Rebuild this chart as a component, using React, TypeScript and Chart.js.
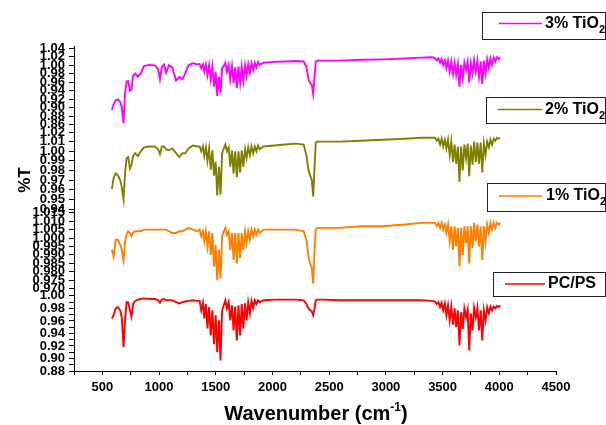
import React, { useEffect, useRef } from 'react';
import { Chart, registerables } from 'chart.js';

Chart.register(...registerables);

// Wavenumber grid (cm-1) shared by all spectra
const wavenumbers = [
  584, 599, 618, 637, 657, 671, 687, 700, 714, 728, 743, 757, 771, 790, 814, 839, 867, 914, 963, 992, 1008, 1025, 1044, 1063, 1087, 1116, 1150, 1179, 1207, 1231, 1260, 1298, 1336,
  1358, 1372, 1387, 1399, 1413, 1427, 1441, 1456, 1470, 1485, 1499, 1513, 1528, 1542, 1556, 1571, 1585, 1599, 1614, 1628, 1643, 1657, 1671, 1686, 1700, 1715, 1729, 1743, 1758, 1772, 1786, 1801, 1815, 1830, 1844, 1858, 1873, 1887,
  1921, 2016, 2112, 2208, 2275, 2299, 2318, 2332, 2347, 2359, 2371, 2382, 2394, 2446, 2591, 2782, 2974, 3165, 3310, 3405,
  3433, 3448, 3463, 3478, 3492, 3505, 3520, 3534, 3548, 3563, 3577, 3592, 3606, 3620, 3635, 3649, 3663, 3678, 3692, 3707, 3721, 3735, 3749, 3764, 3778, 3793, 3807, 3821, 3836, 3850, 3864, 3879, 3893, 3908, 3922, 3936, 3951, 3965, 3979, 3994, 4008,
];

const pcps = [
  0.964, 0.969, 0.980, 0.982, 0.977, 0.966, 0.918, 0.961, 0.990, 0.990, 0.977, 0.967, 0.987, 0.992, 0.994, 0.995, 0.996, 0.995, 0.995, 0.993, 0.989, 0.994, 0.995, 0.993, 0.993, 0.993, 0.990, 0.988, 0.990, 0.991, 0.992, 0.993, 0.992,
  0.992, 0.977, 0.989, 0.964, 0.987, 0.948, 0.982, 0.937, 0.977, 0.923, 0.969, 0.910, 0.961, 0.897, 0.977, 0.985, 0.993, 0.980, 0.990, 0.961, 0.985, 0.945, 0.983, 0.929, 0.985, 0.937, 0.987, 0.948, 0.988, 0.961, 0.990, 0.972, 0.992, 0.981, 0.993, 0.987, 0.993, 0.990,
  0.993, 0.994, 0.994, 0.994, 0.993, 0.987, 0.980, 0.977, 0.975, 0.969, 0.980, 0.993, 0.994, 0.994, 0.993, 0.993, 0.993, 0.993, 0.993, 0.992,
  0.991, 0.987, 0.990, 0.982, 0.989, 0.977, 0.988, 0.969, 0.985, 0.961, 0.983, 0.954, 0.980, 0.950, 0.977, 0.921, 0.974, 0.947, 0.980, 0.966, 0.978, 0.913, 0.972, 0.945, 0.981, 0.966, 0.981, 0.945, 0.977, 0.929, 0.977, 0.961, 0.982, 0.972, 0.983, 0.977, 0.983, 0.980, 0.984, 0.982, 0.985,
];

const tio2_1 = [
  0.993, 0.989, 0.999, 0.999, 0.996, 0.993, 0.987, 0.998, 1.002, 1.004, 1.003, 1.001, 1.003, 1.004, 1.004, 1.004, 1.005, 1.005, 1.005, 1.005, 1.005, 1.005, 1.005, 1.005, 1.004, 1.003, 1.003, 1.004, 1.004, 1.005, 1.006, 1.005, 1.004,
  1.005, 1.001, 1.004, 0.998, 1.004, 0.995, 1.004, 0.990, 1.003, 0.983, 0.996, 0.975, 0.993, 0.976, 1.001, 1.004, 1.006, 1.002, 1.004, 0.993, 1.003, 0.987, 1.003, 0.985, 1.003, 0.988, 1.003, 0.993, 1.004, 0.997, 1.004, 0.999, 1.005, 1.001, 1.005, 1.002, 1.005, 1.003,
  1.005, 1.005, 1.005, 1.005, 1.004, 0.999, 0.989, 0.985, 0.982, 0.973, 0.993, 1.005, 1.006, 1.006, 1.006, 1.007, 1.007, 1.008, 1.009, 1.009,
  1.009, 1.007, 1.009, 1.006, 1.009, 1.005, 1.008, 1.003, 1.008, 0.998, 1.007, 0.993, 1.007, 0.995, 1.006, 0.983, 1.006, 0.990, 1.007, 0.997, 1.007, 0.985, 1.007, 0.994, 1.009, 0.998, 1.008, 0.995, 1.007, 0.987, 1.007, 0.998, 1.008, 1.003, 1.009, 1.005, 1.009, 1.006, 1.009, 1.008, 1.009,
];

const tio2_2 = [
  0.961, 0.972, 0.977, 0.975, 0.970, 0.963, 0.950, 0.977, 0.993, 0.994, 0.982, 0.986, 0.995, 0.998, 0.995, 1.000, 1.004, 1.005, 1.005, 1.002, 0.997, 1.005, 1.005, 1.002, 1.001, 1.003, 0.998, 0.994, 0.998, 0.998, 1.003, 1.006, 1.005,
  1.005, 1.000, 1.005, 0.995, 1.004, 0.990, 1.003, 0.981, 1.001, 0.975, 0.989, 0.954, 0.984, 0.955, 0.998, 1.003, 1.007, 1.000, 1.004, 0.984, 1.001, 0.977, 1.000, 0.973, 1.000, 0.978, 1.001, 0.984, 1.002, 0.993, 1.004, 0.996, 1.005, 0.998, 1.005, 1.000, 1.006, 1.002,
  1.005, 1.006, 1.007, 1.008, 1.007, 0.996, 0.980, 0.975, 0.970, 0.953, 0.984, 1.009, 1.010, 1.010, 1.010, 1.011, 1.012, 1.013, 1.014, 1.014,
  1.014, 1.011, 1.013, 1.007, 1.013, 1.005, 1.012, 1.003, 1.012, 0.996, 1.010, 0.989, 1.007, 0.987, 1.005, 0.968, 1.005, 0.980, 1.007, 0.993, 1.008, 0.974, 1.006, 0.986, 1.010, 0.989, 1.009, 0.987, 1.009, 0.978, 1.008, 0.996, 1.010, 1.004, 1.012, 1.007, 1.013, 1.011, 1.014, 1.013, 1.014,
];

const tio2_3 = [
  0.895, 0.907, 0.918, 0.920, 0.914, 0.903, 0.864, 0.934, 0.962, 0.963, 0.940, 0.943, 0.975, 0.981, 0.973, 0.981, 0.998, 1.001, 1.000, 0.991, 0.967, 0.997, 1.002, 0.983, 1.000, 0.995, 0.964, 0.973, 0.967, 0.981, 1.000, 1.005, 1.002,
  1.003, 0.993, 1.002, 0.985, 1.002, 0.977, 1.000, 0.967, 0.997, 0.950, 0.985, 0.928, 0.973, 0.934, 0.993, 0.998, 1.006, 0.985, 1.001, 0.967, 0.998, 0.958, 0.995, 0.946, 0.997, 0.959, 0.997, 0.964, 1.000, 0.975, 1.003, 0.983, 1.005, 0.989, 1.006, 0.995, 1.008, 1.001,
  1.006, 1.008, 1.009, 1.010, 1.009, 0.997, 0.967, 0.959, 0.954, 0.933, 0.973, 1.009, 1.011, 1.011, 1.011, 1.013, 1.014, 1.016, 1.018, 1.019,
  1.017, 1.012, 1.016, 1.006, 1.015, 1.001, 1.012, 0.993, 1.011, 0.985, 1.009, 0.980, 1.006, 0.977, 1.003, 0.950, 1.001, 0.969, 1.006, 0.989, 1.008, 0.959, 1.005, 0.981, 1.012, 0.985, 1.011, 0.973, 1.009, 0.956, 1.011, 0.981, 1.014, 0.993, 1.016, 1.001, 1.018, 1.009, 1.019, 1.014, 1.019,
];

const seriesNames = ['PC/PS', '1% TiO', '2% TiO', '3% TiO'];
const seriesSubs = ['', '2', '2', '2'];
const seriesColors = ['#ff0000', '#ff8000', '#808000', '#ff00ff'];

const xTicks = [250, 500, 750, 1000, 1250, 1500, 1750, 2000, 2250, 2500, 2750, 3000, 3250, 3500, 3750, 4000, 4250, 4500];
const xLabels = [500, 1000, 1500, 2000, 2500, 3000, 3500, 4000, 4500];

const y1Ticks = [0.88, 0.89, 0.90, 0.91, 0.92, 0.93, 0.94, 0.95, 0.96, 0.97, 0.98, 0.99, 1.00];
const y1Labels = [0.88, 0.90, 0.92, 0.94, 0.96, 0.98, 1.00];
const y2Ticks = [0.970, 0.975, 0.980, 0.985, 0.990, 0.995, 1.000, 1.005, 1.010, 1.015];
const y3Ticks = [0.94, 0.95, 0.96, 0.97, 0.98, 0.99, 1.00, 1.01, 1.02];
const y4Ticks = [0.86, 0.88, 0.90, 0.92, 0.94, 0.96, 0.98, 1.00, 1.02, 1.04];

const FONT = '"Liberation Sans", Arial, Helvetica, sans-serif';

const legendBoxes = [
  { box: [493, 272, 605, 296], lineY: 284, x0: 505, x1: 545, textX: 548 },
  { box: [487, 183, 605, 211], lineY: 196, x0: 499, x1: 542, textX: 546 },
  { box: [486, 97, 605, 123], lineY: 109.5, x0: 498, x1: 542, textX: 545 },
  { box: [482, 12, 605, 39], lineY: 23.5, x0: 499, x1: 542, textX: 545 },
];

const decorPlugin = {
  id: 'decor',
  afterDraw(chart: any) {
    const ctx = chart.ctx as CanvasRenderingContext2D;
    ctx.save();
    ctx.fillStyle = '#000';
    // Y title
    ctx.save();
    ctx.translate(25, 180);
    ctx.rotate(-Math.PI / 2);
    ctx.font = `bold 17px ${FONT}`;
    ctx.textAlign = 'center';
    ctx.textBaseline = 'middle';
    ctx.fillText('%T', 0, 0);
    ctx.restore();

    // X title with superscript
    const main = 'Wavenumber (cm';
    const sup = '-1';
    const end = ')';
    ctx.textBaseline = 'alphabetic';
    ctx.textAlign = 'left';
    ctx.font = `bold 20px ${FONT}`;
    const w1 = ctx.measureText(main).width;
    const w3 = ctx.measureText(end).width;
    ctx.font = `bold 12px ${FONT}`;
    const w2 = ctx.measureText(sup).width;
    const total = w1 + w2 + w3;
    let x = 316 - total / 2;
    const base = 420;
    ctx.font = `bold 20px ${FONT}`;
    ctx.fillText(main, x, base);
    x += w1;
    ctx.font = `bold 12px ${FONT}`;
    ctx.fillText(sup, x, base - 9);
    x += w2;
    ctx.font = `bold 20px ${FONT}`;
    ctx.fillText(end, x, base);

    // Legends
    legendBoxes.forEach((lb, i) => {
      const [bx0, by0, bx1, by1] = lb.box;
      ctx.strokeStyle = '#222';
      ctx.lineWidth = 1;
      ctx.strokeRect(bx0 + 0.5, by0 + 0.5, bx1 - bx0, by1 - by0);
      ctx.strokeStyle = seriesColors[i];
      ctx.lineWidth = 1.5;
      ctx.beginPath();
      ctx.moveTo(lb.x0, lb.lineY);
      ctx.lineTo(lb.x1, lb.lineY);
      ctx.stroke();
      ctx.fillStyle = '#000';
      ctx.font = `bold 16px ${FONT}`;
      ctx.textBaseline = 'middle';
      ctx.textAlign = 'left';
      ctx.fillText(seriesNames[i], lb.textX, lb.lineY);
      if (seriesSubs[i]) {
        const tw = ctx.measureText(seriesNames[i]).width;
        ctx.font = `bold 11px ${FONT}`;
        ctx.fillText(seriesSubs[i], lb.textX + tw, lb.lineY + 6);
      }
    });
    ctx.restore();
  },
};

function yAxis(ticks: number[], labels: number[] | null, min: number, max: number, weight: number, digits: number) {
  return {
    type: 'linear',
    position: 'left',
    stack: 'spectra',
    stackWeight: weight,
    min,
    max,
    bounds: 'data',
    afterBuildTicks: (scale: any) => {
      scale.ticks = ticks.map((value) => ({ value }));
    },
    afterFit: (scale: any) => {
      scale.width = 74;
    },
    grid: {
      display: true,
      drawOnChartArea: false,
      drawTicks: true,
      tickLength: 5,
      color: '#000',
      tickColor: '#000',
      lineWidth: 1,
    },
    border: { display: true, color: '#000', width: 1 },
    ticks: {
      autoSkip: false,
      padding: 4,
      color: '#000',
      font: { family: FONT, size: 13, weight: 'bold' },
      callback: (v: number) => {
        if (labels && !labels.some((l) => Math.abs(l - v) < 1e-6)) return '';
        return Number(v).toFixed(digits);
      },
    },
  };
}

export default function App() {
  const ref = useRef<HTMLCanvasElement | null>(null);
  useEffect(() => {
    if (!ref.current) return;
    const mk = (vals: number[]) => wavenumbers.map((w, i) => ({ x: w, y: vals[i] }));
    const ds = [pcps, tio2_1, tio2_2, tio2_3].map((vals, i) => ({
      label: seriesNames[i] + seriesSubs[i],
      data: mk(vals),
      yAxisID: 'y' + (i + 1),
      xAxisID: 'x',
      borderColor: seriesColors[i],
      backgroundColor: seriesColors[i],
      borderWidth: 1.9,
      pointRadius: 0,
      tension: 0,
      fill: false,
    }));
    const chart = new Chart(ref.current, {
      type: 'line',
      data: { datasets: ds as any },
      plugins: [decorPlugin],
      options: {
        animation: false,
        responsive: false,
        maintainAspectRatio: false,
        layout: { padding: { left: 0, right: 50, top: 46, bottom: 26 } },
        plugins: { legend: { display: false }, tooltip: { enabled: false } },
        scales: {
          x: {
            type: 'linear',
            position: 'bottom',
            min: 250,
            max: 4500,
            bounds: 'data',
            afterBuildTicks: (scale: any) => {
              scale.ticks = xTicks.map((value) => ({ value }));
            },
            afterFit: (scale: any) => {
              scale.height = 28;
            },
            grid: {
              display: true,
              drawOnChartArea: false,
              drawTicks: true,
              tickLength: 4,
              color: '#000',
              tickColor: '#000',
            },
            border: { display: true, color: '#000', width: 1 },
            ticks: {
              autoSkip: false,
              maxRotation: 0,
              padding: 5,
              color: '#000',
              font: { family: FONT, size: 13, weight: 'bold' },
              callback: (v: number) => (xLabels.includes(Number(v)) ? String(v) : ''),
            },
          },
          y1: yAxis(y1Ticks, y1Labels, 0.88, 1.0059, 78.7, 2),
          y2: yAxis(y2Ticks, null, 0.9679, 1.0161, 81.3, 3),
          y3: yAxis(y3Ticks, null, 0.9381, 1.0237, 82.3, 2),
          y4: yAxis(y4Ticks, null, 0.8515, 1.0454, 82.4, 2),
        } as any,
      },
    });
    return () => chart.destroy();
  }, []);
  return (
    <div style={{ position: 'fixed', left: 0, top: 0, width: 606, height: 425, background: '#fff' }}>
      <canvas ref={ref} width={606} height={425} style={{ display: 'block' }} />
    </div>
  );
}
